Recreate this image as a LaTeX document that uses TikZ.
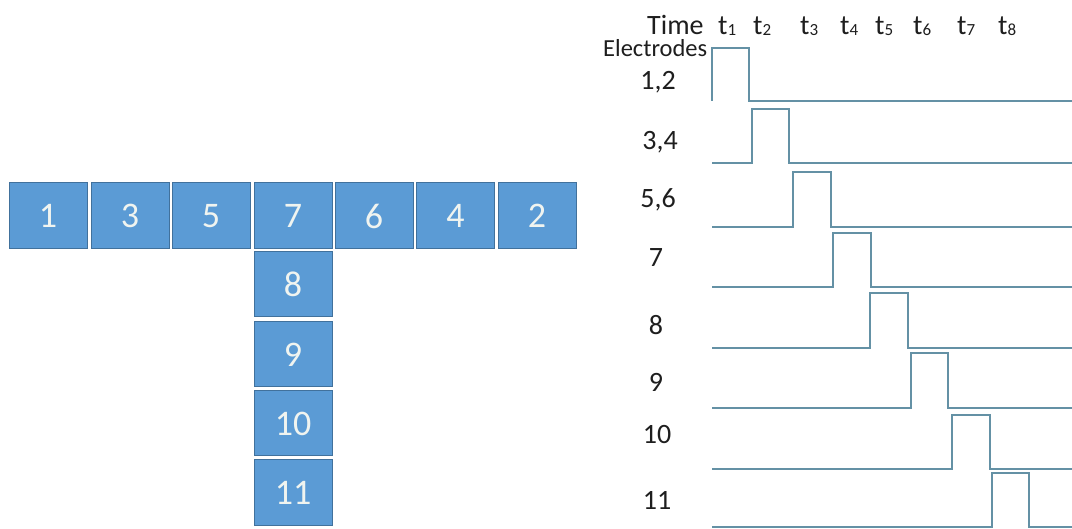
\documentclass[tikz,border=0pt]{standalone}
\usepackage{fontspec}
\setmainfont{Carlito}
\definecolor{boxfill}{RGB}{91,155,213}
\definecolor{boxline}{RGB}{65,113,156}
\definecolor{boxtext}{RGB}{240,244,240}
\definecolor{wave}{RGB}{100,145,165}
\definecolor{labtext}{RGB}{30,30,30}
\begin{document}
\begin{tikzpicture}[x=1pt,y=-1pt,
  elec/.style={draw=boxline,line width=1pt,fill=boxfill,text=boxtext,inner sep=0pt,
    minimum width=78pt,minimum height=66pt,font=\fontsize{36}{40}\selectfont},
  elecv/.style={elec,minimum height=65pt},
  lab/.style={text=labtext,inner sep=0pt,font=\fontsize{28}{30}\selectfont},
  tlab/.style={text=labtext,inner sep=0pt,anchor=base west,font=\fontsize{28}{30}\selectfont},
  wavef/.style={draw=wave,line width=1.5pt}]
\useasboundingbox (0,0) rectangle (1072,529);
% electrode boxes
\node[elec] (e1) at (48,216) {1};
\node[elec] (e3) at (130,216) {3};
\node[elec] (e5) at (211,216) {5};
\node[elec] (e7) at (293,216) {7};
\node[elec] (e6) at (374,216) {6};
\node[elec] (e4) at (455.5,216) {4};
\node[elec] (e2) at (537,216) {2};
\node[elecv] (e8) at (293,284.5) {8};
\node[elecv] (e9) at (293,354.5) {9};
\node[elecv] (e10) at (293,423.5) {10};
\node[elecv] (e11) at (293,492.5) {11};
% header
\node[tlab] (time) at (647,35) {Time};
\foreach \n/\x in {1/718,2/753,3/800,4/840,5/875,6/913,7/957,8/998}{
  \node[tlab] (t\n) at (\x,35) {t\raisebox{-0.5pt}{\fontsize{17}{18}\selectfont\n}};
}
\node[text=labtext,inner sep=0pt,anchor=base west,font=\fontsize{24.5}{26}\selectfont] (electrodes) at (603,57) {Electrodes};
% row labels
\node[lab] (l12) at (658,82) {1,2};
\node[lab] (l34) at (660,142) {3,4};
\node[lab] (l56) at (658,200) {5,6};
\node[lab] (l7) at (656,258) {7};
\node[lab] (l8) at (656,325) {8};
\node[lab] (l9) at (656,382) {9};
\node[lab] (l10) at (657,435) {10};
\node[lab] (l11) at (657,500) {11};
% waveforms
\draw[wavef] (712,101) -- (712,48) -- (749,48) -- (749,101) -- (1072,101);
\foreach \r/\f/\lo/\hi in {752/789/163/109, 793/831/227/172, 833/871/287/233, 870/908/348/293, 911/948/408/353, 952/990/469/415, 992/1029/527/473}{
  \draw[wavef] (712,\lo) -- (\r,\lo) -- (\r,\hi) -- (\f,\hi) -- (\f,\lo) -- (1072,\lo);
}
\end{tikzpicture}
\end{document}
